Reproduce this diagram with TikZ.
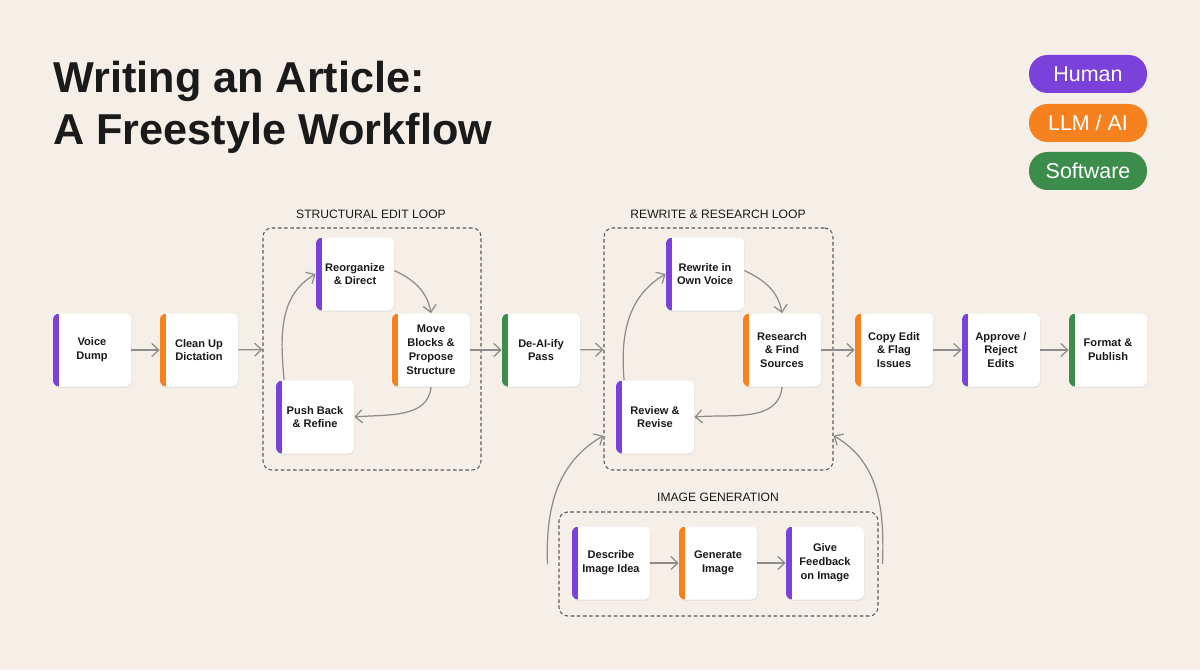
\documentclass[tikz,border=0pt]{standalone}
\usepackage{fontspec}
\setmainfont{Liberation Sans}
\usetikzlibrary{arrows.meta,shadows}
\definecolor{paper}{HTML}{F5EFE7}
\definecolor{humanc}{HTML}{7B42DB}
\definecolor{llmc}{HTML}{F5821F}
\definecolor{softc}{HTML}{3C8C4C}
\definecolor{ink}{HTML}{1A1A1A}
\definecolor{wire}{HTML}{8C8C8C}
\begin{document}
\begin{tikzpicture}
\tikzstyle{task} = [fill=white, rounded corners=3.5pt, minimum width=1.56cm, minimum height=1.46cm, align=center, text=ink, font=\fontsize{6.3}{7.9}\selectfont\bfseries, drop shadow={opacity=0.12, shadow xshift=0.3pt, shadow yshift=-0.8pt}];
\tikzstyle{human} = [task, path picture={\fill[humanc, sharp corners] (path picture bounding box.north west) rectangle ([xshift=0.12cm]path picture bounding box.south west);}];
\tikzstyle{llm} = [task, path picture={\fill[llmc, sharp corners] (path picture bounding box.north west) rectangle ([xshift=0.12cm]path picture bounding box.south west);}];
\tikzstyle{soft} = [task, path picture={\fill[softc, sharp corners] (path picture bounding box.north west) rectangle ([xshift=0.12cm]path picture bounding box.south west);}];
\tikzstyle{loopbox} = [draw=black!65, dash pattern=on 2pt off 1.5pt, line width=0.6pt, rounded corners=5pt];
\tikzstyle{looplabel} = [text=ink, font=\fontsize{6.9}{8}\selectfont];
\tikzstyle{pill} = [rounded corners=10.5pt, minimum width=2.36cm, minimum height=0.76cm, text=white, font=\fontsize{12.2}{14}\selectfont];
\tikzstyle{title} = [anchor=base west, inner sep=0pt, text=ink, font=\fontsize{24.6}{29}\selectfont\bfseries];
\tikzstyle{flow} = [draw=wire, line width=0.7pt, -{Straight Barb[length=4pt,width=7.5pt]}];
\fill[paper] (0,0) rectangle (24,-13.4);
\useasboundingbox (0,0) rectangle (24,-13.4);
% title and legend
\node[title] (t1) at (1.06,-1.86) {Writing an Article:};
\node[title] (t2) at (1.06,-2.90) {A Freestyle Workflow};
\node[pill, fill=humanc] (lhuman) at (21.76,-1.48) {Human};
\node[pill, fill=llmc] (lllm) at (21.76,-2.46) {LLM / AI};
\node[pill, fill=softc] (lsoft) at (21.76,-3.42) {Software};
% groups
\node[loopbox, minimum width=4.36cm, minimum height=4.84cm] (sbox) at (7.44,-6.98) {};
\node[loopbox, minimum width=4.58cm, minimum height=4.84cm] (rbox) at (14.37,-6.98) {};
\node[loopbox, minimum width=6.38cm, minimum height=2.08cm] (ibox) at (14.37,-11.28) {};
\node[looplabel] (slabel) at (7.42,-4.28) {STRUCTURAL EDIT LOOP};
\node[looplabel] (rlabel) at (14.36,-4.28) {REWRITE \& RESEARCH LOOP};
\node[looplabel] (ilabel) at (14.36,-9.94) {IMAGE GENERATION};
% steps
\node[human] (voice) at (1.84,-7.0) {Voice\\Dump};
\node[llm] (clean) at (3.98,-7.0) {Clean Up\\Dictation};
\node[human] (reorg) at (7.10,-5.48) {Reorganize\\\& Direct};
\node[llm] (move) at (8.62,-7.0) {Move\\Blocks \&\\Propose\\Structure};
\node[human] (push) at (6.30,-8.34) {Push Back\\\& Refine};
\node[soft] (deai) at (10.82,-7.0) {De-AI-ify\\Pass};
\node[human] (rewrite) at (14.10,-5.48) {Rewrite in\\Own Voice};
\node[llm] (research) at (15.64,-7.0) {Research\\\& Find\\Sources};
\node[human] (review) at (13.10,-8.34) {Review \&\\Revise};
\node[llm] (copy) at (17.88,-7.0) {Copy Edit\\\& Flag\\Issues};
\node[human] (approve) at (20.02,-7.0) {Approve /\\Reject\\Edits};
\node[soft] (publish) at (22.16,-7.0) {Format \&\\Publish};
\node[human] (describe) at (12.22,-11.26) {Describe\\Image Idea};
\node[llm] (generate) at (14.36,-11.26) {Generate\\Image};
\node[human] (feedback) at (16.50,-11.26) {Give\\Feedback\\on Image};
% main line
\draw[flow] (voice) -- (clean);
\draw[flow] (clean) -- (sbox);
\draw[flow] (move) -- (deai);
\draw[flow] (deai) -- (rbox);
\draw[flow] (research) -- (copy);
\draw[flow] (copy) -- (approve);
\draw[flow] (approve) -- (publish);
% loops
\draw[flow] (reorg.5) to[out=-25, in=100] (move.north);
\draw[flow] (move.south) to[out=-95, in=5] (push.east);
\draw[flow] (push.130) to[out=95, in=210] (reorg.west);
\draw[flow] (rewrite.5) to[out=-25, in=100] (research.north);
\draw[flow] (research.south) to[out=-95, in=5] (review.east);
\draw[flow] (review.130) to[out=95, in=210] (rewrite.west);
% image generation
\draw[flow] (describe) -- (generate);
\draw[flow] (generate) -- (feedback);
\draw[flow] ([xshift=-0.22cm]ibox.west) to[out=92, in=210] (rbox.217);
\draw[flow] ([xshift=0.08cm]ibox.east) to[out=88, in=-30] (rbox.-37);
\end{tikzpicture}
\end{document}
